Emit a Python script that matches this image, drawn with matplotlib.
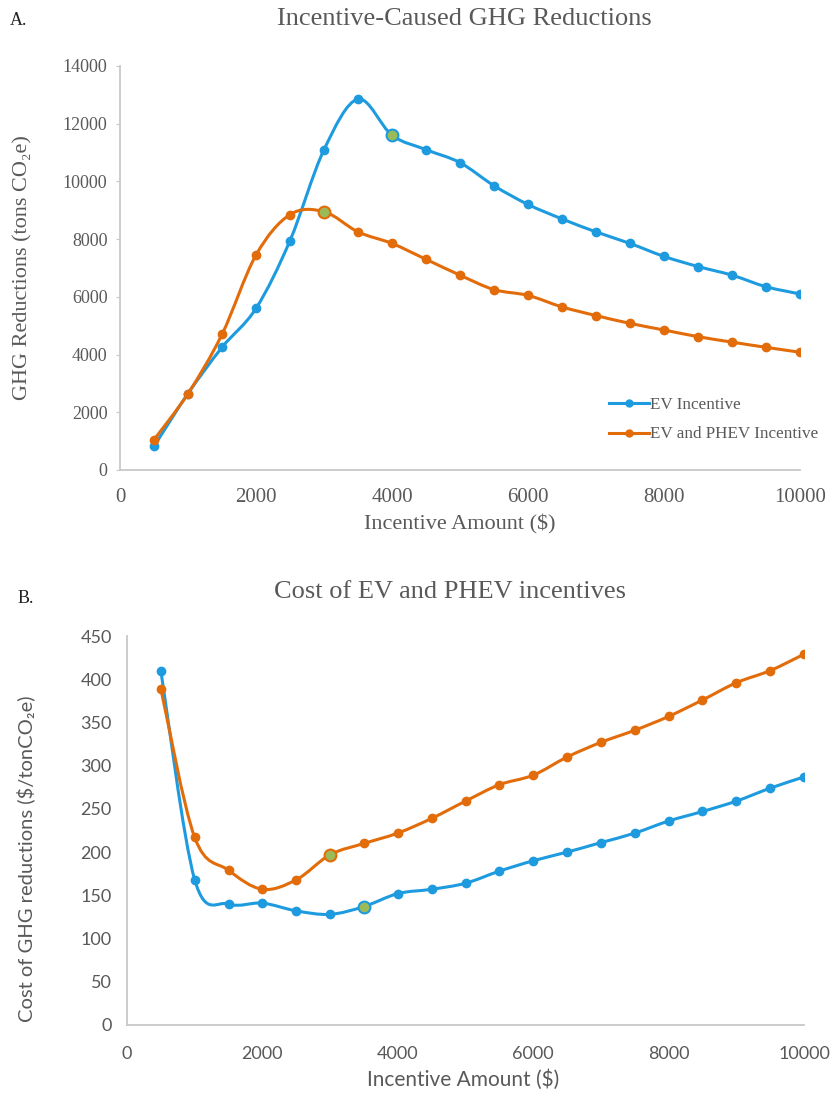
import matplotlib
matplotlib.use("Agg")
import matplotlib.pyplot as plt
from matplotlib.path import Path
from matplotlib.patches import PathPatch
from matplotlib.lines import Line2D
import numpy as np

# incentive amounts ($)
incentive = [500, 1000, 1500, 2000, 2500, 3000, 3500, 4000, 4500, 5000,
             5500, 6000, 6500, 7000, 7500, 8000, 8500, 9000, 9500, 10000]

# A. GHG reductions (tons CO2e)
ghg_ev = [820, 2650, 4250, 5600, 7950, 11100, 12850, 11600, 11100, 10650,
          9850, 9200, 8700, 8250, 7850, 7400, 7050, 6750, 6350, 6100]
ghg_phev = [1050, 2650, 4700, 7450, 8850, 8950, 8250, 7850, 7300, 6750,
            6250, 6050, 5650, 5350, 5080, 4850, 4620, 4430, 4250, 4080]

# B. cost of GHG reductions ($/tonCO2e)
cost_ev = [410, 168, 140, 141, 132, 128, 137, 152, 157, 164,
           178, 190, 200, 211, 222, 236, 247, 259, 274, 287]
cost_phev = [389, 217, 179, 157, 168, 197, 210, 222, 239, 259,
             278, 289, 310, 327, 341, 357, 376, 396, 410, 429]

# highlighted (optimal) points, index into incentive
hl_ghg = {"ev": 7, "phev": 5}
hl_cost = {"ev": 6, "phev": 5}

BLUE = "#1E9BDF"
ORANGE = "#E36C0A"
GREEN = "#9BBB59"
GREY = "#595959"
SPINE = "#C8C8C8"

SERIF = "Liberation Serif"
SANS = "Lato"


def smooth_line(ax, x, y, color):
    # excel-style smoothed line: bezier segments through the data points
    x = np.asarray(x, float)
    y = np.asarray(y, float)
    n = len(x)
    verts = [(x[0], y[0])]
    codes = [Path.MOVETO]
    for i in range(n - 1):
        p0 = max(i - 1, 0)
        p3 = min(i + 2, n - 1)
        c1 = (x[i] + (x[i + 1] - x[p0]) / 6, y[i] + (y[i + 1] - y[p0]) / 6)
        c2 = (x[i + 1] - (x[p3] - x[i]) / 6, y[i + 1] - (y[p3] - y[i]) / 6)
        verts += [c1, c2, (x[i + 1], y[i + 1])]
        codes += [Path.CURVE4] * 3
    ax.add_patch(PathPatch(Path(verts, codes), fill=False, edgecolor=color,
                           lw=2.2, capstyle="round", joinstyle="round", zorder=2))
    ax.plot(x, y, "o", color=color, ms=6, zorder=3)


def highlight(ax, x, y, idx, color):
    ax.plot([x[idx]], [y[idx]], "o", mfc=GREEN, mec=color, mew=1.5, ms=8.5, zorder=4)


def style_axes(ax, family, ticklen, xsize, ysize, xpad, ypad):
    for s in ["top", "right"]:
        ax.spines[s].set_visible(False)
    for s in ["left", "bottom"]:
        ax.spines[s].set_color(SPINE)
        ax.spines[s].set_linewidth(1.3)
    ax.tick_params(axis="y", length=ticklen, color=SPINE, labelcolor=GREY,
                   labelsize=ysize, pad=ypad)
    ax.tick_params(axis="x", length=0, labelcolor=GREY, labelsize=xsize, pad=xpad)
    for lab in ax.get_xticklabels() + ax.get_yticklabels():
        lab.set_family(family)


fig = plt.figure(figsize=(8.3, 10.94), dpi=100)

# ---------------- A ----------------
axA = fig.add_axes([0.1446, 0.5704, 0.8193, 0.3693])
smooth_line(axA, incentive, ghg_ev, BLUE)
smooth_line(axA, incentive, ghg_phev, ORANGE)
highlight(axA, incentive, ghg_ev, hl_ghg["ev"], BLUE)
highlight(axA, incentive, ghg_phev, hl_ghg["phev"], ORANGE)
axA.set_xlim(0, 10000)
axA.set_ylim(0, 14000)
axA.set_xticks(range(0, 10001, 2000))
axA.set_yticks(range(0, 14001, 2000))
style_axes(axA, SERIF, 3, 15, 13, 13, 6)
axA.set_xlabel("Incentive Amount ($)", family=SERIF, fontsize=16, color=GREY, va="center")
axA.xaxis.set_label_coords(0.5, -0.136)
axA.set_ylabel("GHG Reductions (tons CO\u2082e)", family=SERIF, fontsize=16, color=GREY, va="center")
axA.yaxis.set_label_coords(-0.143, 0.5)
handles = [Line2D([], [], color=BLUE, lw=2.2, marker="o", ms=5),
           Line2D([], [], color=ORANGE, lw=2.2, marker="o", ms=5)]
leg = axA.legend(handles, ["EV Incentive", "EV and PHEV Incentive"],
                 loc="lower right", bbox_to_anchor=(1.05, 0.03), frameon=False,
                 prop={"family": SERIF, "size": 12.3}, handlelength=2.3,
                 handletextpad=0.1, labelspacing=0.8)
for t in leg.get_texts():
    t.set_color(GREY)
fig.text(0.559, 0.983, "Incentive-Caused GHG Reductions", family=SERIF,
         fontsize=19, color=GREY, ha="center", va="center")
fig.text(0.012, 0.981, "A.", family=SERIF, fontsize=13, color="#222222",
         ha="left", va="center")

# ---------------- B ----------------
axB = fig.add_axes([0.153, 0.0631, 0.8157, 0.3555])
smooth_line(axB, incentive, cost_ev, BLUE)
smooth_line(axB, incentive, cost_phev, ORANGE)
highlight(axB, incentive, cost_ev, hl_cost["ev"], BLUE)
highlight(axB, incentive, cost_phev, hl_cost["phev"], ORANGE)
axB.set_xlim(0, 10000)
axB.set_ylim(0, 450)
axB.set_xticks(range(0, 10001, 2000))
axB.set_yticks(range(0, 451, 50))
style_axes(axB, SANS, 0, 13, 13, 15, 11)
axB.set_xlabel("Incentive Amount ($)", family=SANS, fontsize=15, color=GREY, va="center")
axB.xaxis.set_label_coords(0.497, -0.141)
axB.set_ylabel("Cost of GHG reductions ($/tonCO\u2082e)", family=SANS, fontsize=14.5,
               color=GREY, va="center")
axB.yaxis.set_label_coords(-0.149, 0.427)
fig.text(0.542, 0.459, "Cost of EV and PHEV incentives", family=SERIF,
         fontsize=19, color=GREY, ha="center", va="center")
fig.text(0.021, 0.4525, "B.", family=SERIF, fontsize=13, color="#222222",
         ha="left", va="center")

fig.savefig("out.png", dpi=100)
